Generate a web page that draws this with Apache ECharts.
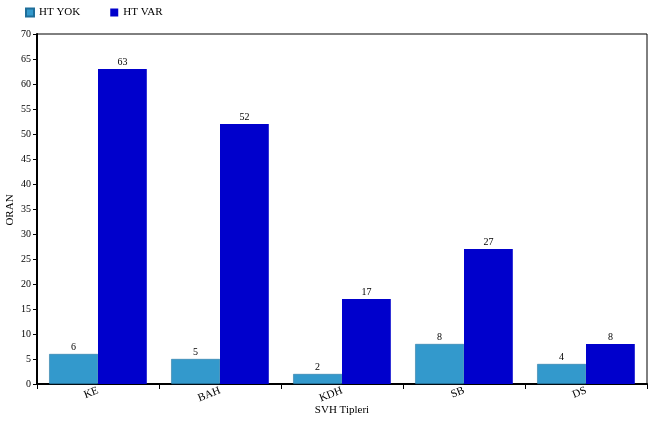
<!DOCTYPE html>
<html><head><meta charset="utf-8">
<script src="https://cdn.jsdelivr.net/npm/echarts@6/dist/echarts.min.js"></script>
<style>html,body{margin:0;padding:0;background:#fff}#c{width:657px;height:422px}</style>
</head><body><div id="c"></div>
<script>
var categories = ['KE', 'BAH', 'KDH', 'SB', 'DS'];
var htYok = [6, 5, 2, 8, 4];
var htVar = [63, 52, 17, 27, 8];
var yTicks = { min: 0, max: 70, interval: 5 };
var xTitle = 'SVH Tipleri';
var yTitle = 'ORAN';

var font = 'Liberation Serif';
var chart = echarts.init(document.getElementById('c'), null, { renderer: 'canvas' });
chart.setOption({
  animation: false,
  textStyle: { fontFamily: font },
  legend: {
    left: 20, top: 2, itemWidth: 8, itemHeight: 8, itemGap: 30,
    icon: 'rect',
    textStyle: { fontFamily: font, fontSize: 11, color: '#000' },
    data: ['HT YOK', 'HT VAR']
  },
  grid: { left: 37, right: 10, top: 34, bottom: 38, containLabel: false, outerBoundsMode: 'none',
    show: true, borderColor: '#000', borderWidth: 1 },
  graphic: [
    { type: 'text', x: 342, y: 410, style: { text: xTitle, font: '11px "Liberation Serif"', fill: '#000', align: 'center', verticalAlign: 'middle' } },
    { type: 'text', x: 10, y: 210, rotation: Math.PI / 2, style: { text: yTitle, font: '11px "Liberation Serif"', fill: '#000', align: 'center', verticalAlign: 'middle' } }
  ],
  xAxis: {
    type: 'category', data: categories,
    axisLine: { lineStyle: { color: '#000', width: 2 } },
    axisTick: { show: true, alignWithLabel: false, length: 5, lineStyle: { color: '#000' } },
    axisLabel: { rotate: 22, fontFamily: font, fontSize: 11, color: '#000', margin: 6 }
  },
  yAxis: {
    type: 'value', min: yTicks.min, max: yTicks.max, interval: yTicks.interval,
    axisLine: { show: true, lineStyle: { color: '#000', width: 2 } },
    axisTick: { show: true, length: 4, lineStyle: { color: '#000' } },
    splitLine: { show: false },
    axisLabel: { fontFamily: font, fontSize: 10, color: '#000', margin: 6 }
  },
  series: [
    { name: 'HT YOK', type: 'bar', data: htYok, barGap: '0%', barCategoryGap: '20%',
      itemStyle: { color: '#3399CC', borderColor: '#1F6E99', borderWidth: 0.5 },
      label: { show: true, position: 'top', distance: 2, fontFamily: font, fontSize: 10, color: '#000' } },
    { name: 'HT VAR', type: 'bar', data: htVar, barGap: '0%', barCategoryGap: '20%',
      itemStyle: { color: '#0000CC' },
      label: { show: true, position: 'top', distance: 2, fontFamily: font, fontSize: 10, color: '#000' } }
  ]
});
</script></body></html>
